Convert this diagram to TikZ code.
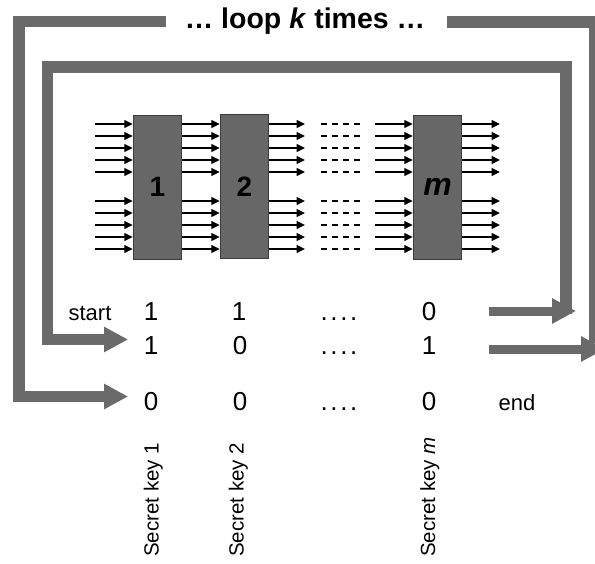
\documentclass[tikz,border=0pt]{standalone}
\usepackage{fontspec}
\setmainfont{Liberation Sans}
\usetikzlibrary{arrows.meta}
\definecolor{loopgray}{HTML}{6A6A6A}
\definecolor{blockgray}{HTML}{676767}
\definecolor{blockedge}{HTML}{3C3C3C}
\newcommand{\fourdots}{.\kern2.6pt.\kern2.6pt.\kern2.6pt.}
\begin{document}
\begin{tikzpicture}[x=1pt,y=-1pt,
  loopline/.style={draw=loopgray, line width=11.5pt, line join=miter, line cap=butt,
    -{Triangle[length=24pt,width=24pt]}},
  bigarrow/.style={draw=loopgray, line width=9pt, -{Triangle[length=24pt,width=24pt]}},
  block/.style={draw=blockedge, fill=blockgray, minimum width=48.5pt, minimum height=144pt,
    inner sep=0pt, line width=0.9pt},
  thinarrow/.style={line width=1.3pt, -{Triangle[length=8.5pt,width=8pt]}},
  dashline/.style={line width=1.3pt, dash pattern=on 6pt off 5pt},
  blabel/.style={font=\bfseries\fontsize{28}{32}\selectfont},
  rowtxt/.style={anchor=base, inner sep=0pt, font=\fontsize{26}{30}\selectfont},
  smalltxt/.style={anchor=base, inner sep=0pt, font=\fontsize{22}{26}\selectfont},
  keytxt/.style={rotate=90, anchor=base west, inner sep=0pt, font=\fontsize{20.5}{24}\selectfont},
  titletxt/.style={anchor=base, inner sep=0pt, font=\bfseries\fontsize{28.5}{32}\selectfont}
]
\useasboundingbox (0,0) rectangle (595,563);

% title
\node[titletxt] (title) at (305,28.5) {… loop \textit{k} times …};

% loop corner coordinates
\coordinate (inS) at (566,314);
\coordinate (inA) at (566,67);
\coordinate (inB) at (47.5,67);
\coordinate (inC) at (47.5,339.5);
\coordinate (inE) at (128,339.5);

\coordinate (outS) at (594.5,343);
\coordinate (outA) at (594.5,21.5);
\coordinate (outG1) at (447,21.5);
\coordinate (outG2) at (166,21.5);
\coordinate (outB) at (18.8,21.5);
\coordinate (outC) at (18.8,396.5);
\coordinate (outE) at (128,396.5);

% blocks
\node[block] (b1) at (157.5,187) {};
\node[block] (b2) at (244.5,186.5) {};
\node[block] (bm) at (437.5,187) {};
\node[blabel] (l1) at (b1.center) {1};
\node[blabel] (l2) at (b2.center) {2};
\node[blabel, font=\bfseries\itshape\fontsize{32}{36}\selectfont] (lm) at (bm.center) {m};

% thin arrows
\foreach \yy in {124,136,148,160,172,201,213,225,237,249} {
  \coordinate (s\yy) at (95,\yy);
  \coordinate (o\yy) at (305,\yy);
  \coordinate (da\yy) at (321,\yy);
  \coordinate (db\yy) at (360,\yy);
  \coordinate (i\yy) at (375,\yy);
  \coordinate (e\yy) at (500,\yy);
  \draw[thinarrow] (s\yy) -- (b1.west |- s\yy);
  \draw[thinarrow] (b1.east |- s\yy) -- (b2.west |- s\yy);
  \draw[thinarrow] (b2.east |- s\yy) -- (o\yy);
  \draw[dashline] (da\yy) -- (db\yy);
  \draw[thinarrow] (i\yy) -- (bm.west |- i\yy);
  \draw[thinarrow] (bm.east |- e\yy) -- (e\yy);
}

% rows
\node[smalltxt] (start) at (90,320) {start};
\node[rowtxt] (r1c1) at (151,320.5) {1};
\node[rowtxt] (r1c2) at (239,320.5) {1};
\node[rowtxt] (r1c3) at (339,320.5) {\fourdots};
\node[rowtxt] (r1c4) at (429,320.5) {0};

\node[rowtxt] (r2c1) at (151,354) {1};
\node[rowtxt] (r2c2) at (240,354) {0};
\node[rowtxt] (r2c3) at (339,354) {\fourdots};
\node[rowtxt] (r2c4) at (429,354) {1};

\node[rowtxt] (r3c1) at (151,410.5) {0};
\node[rowtxt] (r3c2) at (240,410.5) {0};
\node[rowtxt] (r3c3) at (339,410.5) {\fourdots};
\node[rowtxt] (r3c4) at (429,410.5) {0};
\node[smalltxt] (end) at (517,410) {end};

% keys
\node[keytxt] (k1) at (158.7,557) {Secret key 1};
\node[keytxt] (k2) at (243.7,557) {Secret key 2};
\node[keytxt] (km) at (435,557) {Secret key \textit{m}};

% loops
\draw[loopline] (inS) -- (inA) -- (inB) -- (inC) -- (inE);
\draw[loopgray, line width=12pt, line join=miter] (outS) -- (outA) -- (outG1);
\draw[loopline] (outG2) -- (outB) -- (outC) -- (outE);

% right arrows
\coordinate (ra1) at (489,311);
\coordinate (rb1) at (576,311);
\coordinate (ra2) at (489,349);
\coordinate (rb2) at (605,349);
\draw[bigarrow] (ra1) -- (rb1);
\draw[bigarrow] (ra2) -- (rb2);
\end{tikzpicture}
\end{document}
